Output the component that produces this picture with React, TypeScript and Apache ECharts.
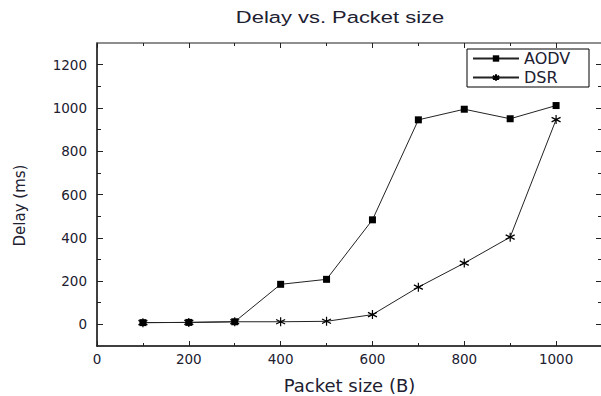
import React, { useEffect, useRef } from "react";
import * as echarts from "echarts";

const packetSizes = [100, 200, 300, 400, 500, 600, 700, 800, 900, 1000];
const aodvDelay = [8, 9, 12, 185, 208, 483, 945, 994, 950, 1011];
const dsrDelay = [8, 9, 12, 12, 14, 45, 172, 283, 403, 946];

const xMajorTicks = [0, 200, 400, 600, 800, 1000];
const xMinorTicks = [100, 300, 500, 700, 900];
const yMajorTicks = [0, 200, 400, 600, 800, 1000, 1200];
const yMinorTicks = [100, 300, 500, 700, 900, 1100];

const TEXT = "#202030";
const LABEL_FONT = "DejaVu Sans";
const ASTERISK = "path://M0,0L0,10M-4.33,2.5L4.33,7.5M-4.33,7.5L4.33,2.5";

export default function App() {
  const ref = useRef<HTMLDivElement>(null);
  useEffect(() => {
    if (!ref.current) return;
    const chart = echarts.init(ref.current, null, { renderer: "svg" });

    const fmt = (v: number) => String(v);

    const xBase = (position: string, ticks: number[], len: number, lineShow: boolean, lineColor: string, labels: boolean, name?: string) => ({
      type: "value",
      position,
      min: 0,
      max: 1100,
      name: name || "",
      nameLocation: "middle",
      nameGap: 30,
      nameTextStyle: { fontFamily: LABEL_FONT, fontSize: 18, color: TEXT },
      axisLine: { show: lineShow, onZero: false, lineStyle: { color: lineColor, width: 1.5 } },
      axisTick: { show: true, inside: true, length: len, customValues: ticks, lineStyle: { color: "#222", width: 1 } },
      axisLabel: labels
        ? { show: true, customValues: ticks, formatter: fmt, margin: 6, fontFamily: LABEL_FONT, fontSize: 13.5, color: TEXT }
        : { show: false },
      splitLine: { show: false },
    });
    const yBase = (position: string, ticks: number[], len: number, lineShow: boolean, lineColor: string, labels: boolean, name?: string) => ({
      type: "value",
      position,
      min: -100,
      max: 1300,
      name: name || "",
      nameLocation: "middle",
      nameGap: 70,
      nameTextStyle: { fontFamily: LABEL_FONT, fontSize: 15, color: TEXT, padding: [0, 22, 0, 0] },
      axisLine: { show: lineShow, onZero: false, lineStyle: { color: lineColor, width: 1.5 } },
      axisTick: { show: true, inside: true, length: len, customValues: ticks, lineStyle: { color: "#222", width: 1 } },
      axisLabel: labels
        ? { show: true, customValues: ticks, formatter: fmt, margin: 10, fontFamily: LABEL_FONT, fontSize: 13.5, color: TEXT }
        : { show: false },
      splitLine: { show: false },
    });

    chart.setOption({
      animation: false,
      backgroundColor: "#fff",
      grid: { left: 97, right: -1, top: 43, bottom: 50, containLabel: false, outerBoundsMode: "none" },
      graphic: [
        {
          type: "text",
          x: 340,
          y: 17,
          scaleX: 1.29,
          style: {
            text: "Delay vs. Packet size",
            font: '17px "Liberation Sans"',
            fill: TEXT,
            textAlign: "center",
            textVerticalAlign: "middle",
          },
        },
      ],
      xAxis: [
        xBase("bottom", xMajorTicks, 5, true, "#000", true, "Packet size (B)"),
        xBase("bottom", xMinorTicks, 3, false, "#000", false),
        xBase("top", xMajorTicks, 5, true, "#6a6a6a", false),
        xBase("top", xMinorTicks, 3, false, "#6a6a6a", false),
      ],
      yAxis: [
        yBase("left", yMajorTicks, 6, true, "#000", true, "Delay (ms)"),
        yBase("left", yMinorTicks, 4, false, "#000", false),
        yBase("right", yMajorTicks, 6, true, "#6a6a6a", false),
        yBase("right", yMinorTicks, 4, false, "#6a6a6a", false),
      ],
      legend: {
        orient: "vertical",
        left: 467,
        top: 49,
        padding: [0, 9, 0, 5],
        itemGap: 0,
        itemWidth: 46,
        itemHeight: 8,
        borderColor: "#000",
        borderWidth: 1,
        backgroundColor: "#fff",
        textStyle: { fontFamily: LABEL_FONT, fontSize: 16, color: TEXT, lineHeight: 19, width: 56 },
        data: ["AODV", "DSR"],
      },
      series: [
        {
          name: "AODV",
          type: "line",
          xAxisIndex: 0,
          yAxisIndex: 0,
          data: packetSizes.map((x, i) => [x, aodvDelay[i]]),
          symbol: "rect",
          symbolSize: 7,
          lineStyle: { color: "#222", width: 1 },
          itemStyle: { color: "#000" },
        },
        {
          name: "DSR",
          type: "line",
          xAxisIndex: 0,
          yAxisIndex: 0,
          data: packetSizes.map((x, i) => [x, dsrDelay[i]]),
          symbol: ASTERISK,
          symbolSize: 9,
          lineStyle: { color: "#222", width: 1 },
          itemStyle: { color: "#000", borderColor: "#000", borderWidth: 1.2 },
        },
      ],
    });
    return () => chart.dispose();
  }, []);
  return <div ref={ref} style={{ position: "fixed", left: 0, top: 0, width: 601, height: 396 }} />;
}
